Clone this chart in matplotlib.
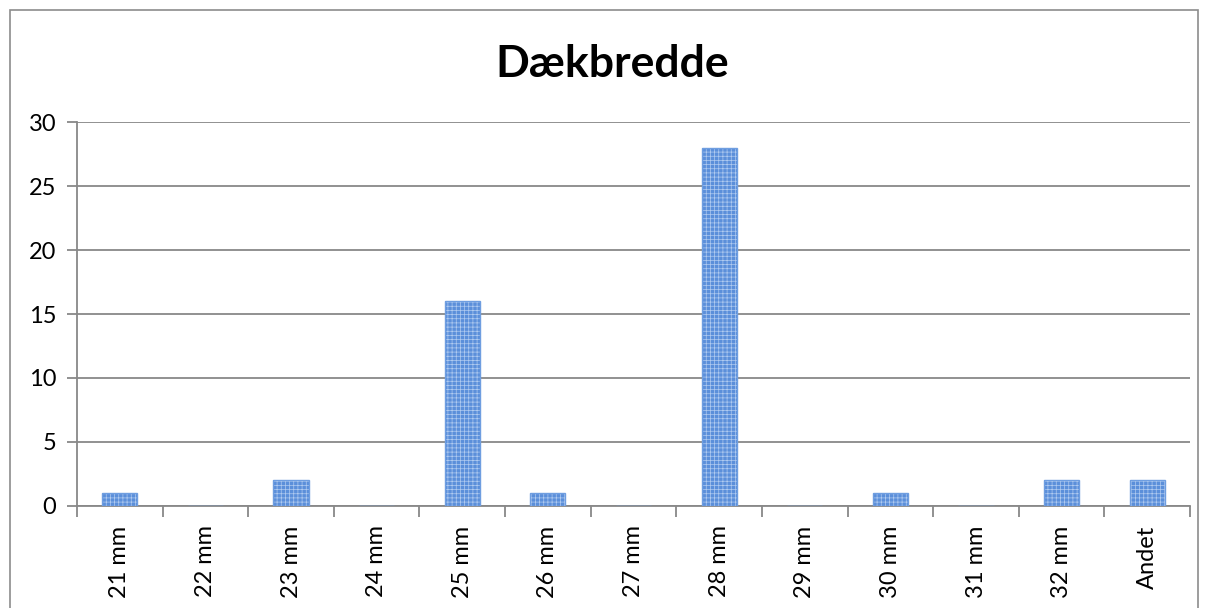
import numpy as np
import matplotlib.pyplot as plt
from matplotlib.patches import Rectangle

kategorier = ['21 mm', '22 mm', '23 mm', '24 mm', '25 mm', '26 mm', '27 mm',
              '28 mm', '29 mm', '30 mm', '31 mm', '32 mm', 'Andet']
antal = [1, 0, 2, 0, 16, 1, 0, 28, 0, 1, 0, 2, 2]

plt.rcParams['font.family'] = ['Lato', 'DejaVu Sans']
plt.rcParams['hatch.linewidth'] = 0.5

fig = plt.figure(figsize=(12.08, 6.08), dpi=100)
ax = fig.add_axes([0.0637, 0.1678, 0.9215, 0.6315])

# ydre ramme
fig.patches.append(Rectangle((10 / 1208, -0.01), 1188 / 1208, 1 - 10 / 608 + 0.01,
                             transform=fig.transFigure, fill=False,
                             edgecolor='#8c8c8c', linewidth=1.2))

x = np.arange(len(kategorier))
ax.bar(x, antal, width=0.41, color='#5b8fda', edgecolor='#b0cbf0',
       hatch='++++', linewidth=0, zorder=3)
ax.bar(x, antal, width=0.41, fill=False, edgecolor='#6f9ee0',
       linewidth=1, zorder=4)

ax.set_xlim(-0.5, len(kategorier) - 0.5)
ax.set_ylim(0, 30)
ax.set_yticks(range(0, 31, 5))
ax.yaxis.grid(True, color='#888888', linewidth=1.3, zorder=0)

ax.set_xticks(x)
ax.set_xticklabels(kategorier, rotation=90, fontsize=17)
ax.set_xticks(np.arange(-0.5, len(kategorier)), minor=True)
ax.tick_params(axis='x', which='major', length=0, pad=14)
ax.tick_params(axis='x', which='minor', length=8, width=1.3, color='#888888')
ax.tick_params(axis='y', length=7, width=1.3, color='#888888', labelsize=17, pad=8)

for s in ['top', 'right']:
    ax.spines[s].set_visible(False)
for s in ['left', 'bottom']:
    ax.spines[s].set_color('#888888')
    ax.spines[s].set_linewidth(1.3)

fig.text(0.507, 0.895, 'Dækbredde', ha='center', va='center',
         fontsize=32, fontweight='bold')

fig.savefig('out.png', dpi=100)
